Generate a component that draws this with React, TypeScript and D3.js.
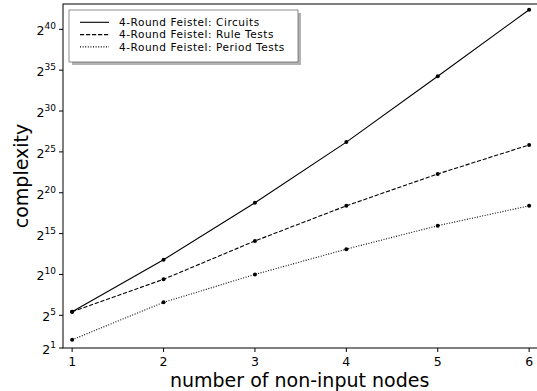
import { useRef, useEffect } from "react";
import * as d3 from "d3";

// number of non-input nodes
const NODES = [1, 2, 3, 4, 5, 6];
// log2 of the complexity
const CIRCUITS = [5.44, 11.8, 18.78, 26.2, 34.25, 42.4];
const RULE_TESTS = [5.44, 9.41, 14.1, 18.4, 22.3, 25.85];
const PERIOD_TESTS = [2.0, 6.59, 10.0, 13.1, 15.97, 18.4];
const Y_TICK_EXPS = [1, 5, 10, 15, 20, 25, 30, 35, 40];

const SERIES = [
  { name: "4-Round Feistel: Circuits", values: CIRCUITS, dash: null as string | null },
  { name: "4-Round Feistel: Rule Tests", values: RULE_TESTS, dash: "4.2,1.8" },
  { name: "4-Round Feistel: Period Tests", values: PERIOD_TESTS, dash: "1,1.6" },
];

const FONT = '"DejaVu Sans", sans-serif';

export default function App() {
  const svgRef = useRef<SVGSVGElement>(null);

  useEffect(() => {
    document.body.style.margin = "0";
    if (!svgRef.current) return;
    const width = 537;
    const height = 391;
    const left = 63;
    const top = 4;
    const bottom = 348;

    const svg = d3.select(svgRef.current);
    svg.selectAll("*").remove();
    svg.attr("width", width).attr("height", height).style("background", "#fff");

    const x = d3.scaleLinear().domain([0.9, 6.1]).range([left, left + 91.4 * 5.2]);
    const y = d3.scaleLog().base(2).domain([2 ** 1, 2 ** 43.1]).range([bottom, top]);

    const g = svg.append("g").style("font-family", FONT);

    // lines + markers
    SERIES.forEach((s) => {
      const pts = NODES.map((n, i) => [n, 2 ** s.values[i]] as [number, number]);
      const line = d3.line<[number, number]>().x((d) => x(d[0])).y((d) => y(d[1]));
      const path = g.append("path")
        .attr("d", line(pts))
        .attr("fill", "none")
        .attr("stroke", "#000")
        .attr("stroke-width", 1.1);
      if (s.dash) path.attr("stroke-dasharray", s.dash);
      g.selectAll(null)
        .data(pts)
        .join("circle")
        .attr("cx", (d) => x(d[0]))
        .attr("cy", (d) => y(d[1]))
        .attr("r", 2)
        .attr("fill", "#000");
    });

    // spines
    const x1 = x.range()[1];
    g.append("rect")
      .attr("x", left).attr("y", top)
      .attr("width", x1 - left).attr("height", bottom - top)
      .attr("fill", "none").attr("stroke", "#000").attr("stroke-width", 1);

    // x ticks
    NODES.forEach((n) => {
      g.append("line")
        .attr("x1", x(n)).attr("x2", x(n))
        .attr("y1", bottom).attr("y2", bottom + 4)
        .attr("stroke", "#000");
      g.append("text")
        .attr("x", x(n)).attr("y", bottom + 18)
        .attr("text-anchor", "middle")
        .style("font-size", "12.5px")
        .text(String(n));
    });

    // y ticks
    Y_TICK_EXPS.forEach((e) => {
      const yy = y(2 ** e);
      g.append("line")
        .attr("x1", left - 4).attr("x2", left)
        .attr("y1", yy).attr("y2", yy)
        .attr("stroke", "#000");
      const t = g.append("text")
        .attr("x", left - 7).attr("y", yy + 6)
        .attr("text-anchor", "end")
        .style("font-size", "12.5px");
      t.append("tspan").text("2");
      t.append("tspan").attr("dy", -6).style("font-size", "9px").text(String(e));
    });

    // axis labels
    g.append("text")
      .attr("x", (left + x1) / 2 - 1).attr("y", 387)
      .attr("text-anchor", "middle")
      .style("font-size", "19px")
      .text("number of non-input nodes");
    g.append("text")
      .attr("transform", `translate(28,${(top + bottom) / 2}) rotate(-90)`)
      .attr("text-anchor", "middle")
      .style("font-size", "19px")
      .text("complexity");

    // legend
    const lg = g.append("g");
    lg.append("rect")
      .attr("x", 72).attr("y", 13).attr("width", 229).attr("height", 52)
      .attr("fill", "#b3b3b3");
    lg.append("rect")
      .attr("x", 69).attr("y", 10).attr("width", 229).attr("height", 52)
      .attr("fill", "#fff").attr("stroke", "#444").attr("stroke-width", 0.6);
    SERIES.forEach((s, i) => {
      const ly = 22.3 + i * 12.3;
      const l = lg.append("line")
        .attr("x1", 80).attr("x2", 109)
        .attr("y1", ly).attr("y2", ly)
        .attr("stroke", "#000").attr("stroke-width", 1.1);
      if (s.dash) l.attr("stroke-dasharray", s.dash);
      lg.append("text")
        .attr("x", 119).attr("y", ly + 3.8)
        .style("font-size", "10.5px")
        .style("letter-spacing", "0.55px")
        .text(s.name);
    });
  }, []);

  return <svg ref={svgRef} style={{ display: "block" }} />;
}
